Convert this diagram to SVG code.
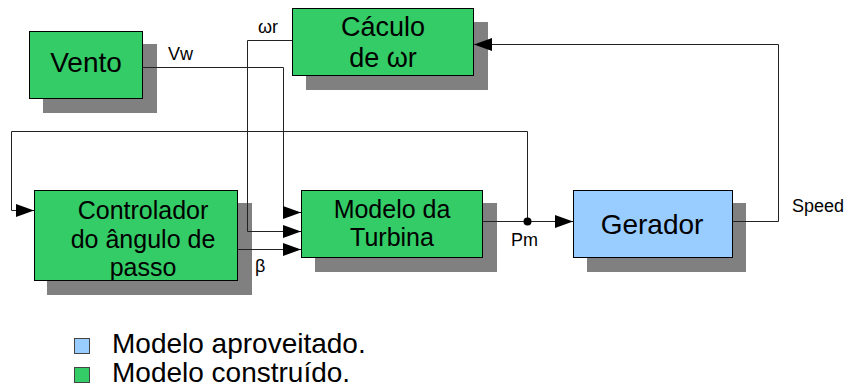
<svg xmlns="http://www.w3.org/2000/svg" width="850" height="389" viewBox="0 0 850 389">
  <style>
    .shadow { fill: #808080; }
    .built { fill: #33cc66; stroke: #000; stroke-width: 1; }
    .reused { fill: #99ccff; stroke: #000; stroke-width: 1; }
    .big { font-family: "Liberation Sans", Arial, sans-serif; fill: #000; text-anchor: middle; }
    .lbl { font-family: "Liberation Sans", Arial, sans-serif; fill: #000; font-size: 18px; }
    .wire { fill: none; stroke: #222; stroke-width: 1; }
    .legend { font-family: "Liberation Sans", Arial, sans-serif; fill: #000; font-size: 28px; }
  </style>
  <defs>
    <marker id="arrow" markerUnits="userSpaceOnUse" markerWidth="18" markerHeight="14" refX="18" refY="6.5" orient="auto">
      <path d="M0,0 L18,6.5 L0,13 z" fill="#000"/>
    </marker>
  </defs>
  <rect width="850" height="389" fill="#fff"/>

  <g id="vento">
    <rect class="shadow" x="43" y="44" width="114" height="69"/>
    <rect class="built" x="29.5" y="31.5" width="113" height="67"/>
    <text class="big" x="86" y="72" font-size="28">Vento</text>
  </g>

  <g id="calculo-wr">
    <rect class="shadow" x="306" y="22" width="182" height="68"/>
    <rect class="built" x="292.5" y="8.5" width="181" height="67"/>
    <text class="big" x="383" y="36" font-size="27">Cáculo</text>
    <text class="big" x="383" y="67" font-size="27">de ωr</text>
  </g>

  <g id="controlador">
    <rect class="shadow" x="47" y="203" width="205" height="92"/>
    <rect class="built" x="34.5" y="190.5" width="203" height="90"/>
    <text class="big" x="143" y="219" font-size="25">Controlador</text>
    <text class="big" x="143" y="248" font-size="25">do ângulo de</text>
    <text class="big" x="143" y="276" font-size="25">passo</text>
  </g>

  <g id="turbina">
    <rect class="shadow" x="315" y="203" width="182" height="69"/>
    <rect class="built" x="301.5" y="190.5" width="181" height="67"/>
    <text class="big" x="392" y="218" font-size="25">Modelo da</text>
    <text class="big" x="392" y="246" font-size="25">Turbina</text>
  </g>

  <g id="gerador">
    <rect class="shadow" x="587" y="203" width="159" height="69"/>
    <rect class="reused" x="573.5" y="190.5" width="159" height="67"/>
    <text class="big" x="652" y="234" font-size="28">Gerador</text>
  </g>

  <g id="connectors">
    <!-- wind speed into turbine -->
    <path class="wire" d="M143,67.5 H283.5 V212.5 H301" marker-end="url(#arrow)"/>
    <!-- rotor speed into turbine -->
    <path class="wire" d="M292,40.5 H247.5 V231.5 H301" marker-end="url(#arrow)"/>
    <!-- pitch angle into turbine -->
    <path class="wire" d="M238,249.5 H301" marker-end="url(#arrow)"/>
    <!-- mechanical power into generator -->
    <path class="wire" d="M483,221.5 H573" marker-end="url(#arrow)"/>
    <!-- power feedback to pitch controller -->
    <path class="wire" d="M527.5,221.5 V131.5 H11.5 V210.5 H34" marker-end="url(#arrow)"/>
    <!-- generator speed back to rotor speed calculation -->
    <path class="wire" d="M733,221.5 H778.5 V44.5 H474" marker-end="url(#arrow)"/>
    <circle cx="527.5" cy="221.5" r="4" fill="#000"/>
    <text class="lbl" x="168" y="60">Vw</text>
    <text class="lbl" x="258" y="33">ωr</text>
    <text class="lbl" x="255" y="272">β</text>
    <text class="lbl" x="511" y="246">Pm</text>
    <text class="lbl" x="792" y="212">Speed</text>
  </g>

  <g id="legenda">
    <rect x="74.5" y="338.5" width="15" height="15" fill="#99ccff" stroke="#444"/>
    <text class="legend" x="112" y="353">Modelo aproveitado.</text>
    <rect x="74.5" y="367.5" width="15" height="15" fill="#33cc66" stroke="#444"/>
    <text class="legend" x="112" y="382">Modelo construído.</text>
  </g>
</svg>
